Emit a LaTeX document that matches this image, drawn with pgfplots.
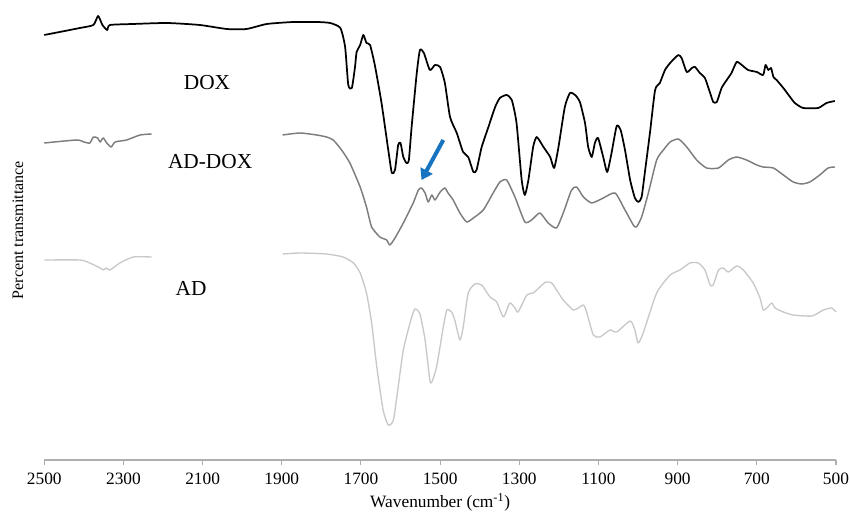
\documentclass[border=0pt]{standalone}
\usepackage{fontspec}
\setmainfont{Liberation Serif}
\usepackage{pgfplots}
\pgfplotsset{compat=1.18}
\usetikzlibrary{calc,arrows.meta}
\definecolor{adgray}{RGB}{125,125,125}
\definecolor{adlight}{RGB}{200,200,200}
\definecolor{arrowblue}{RGB}{22,116,192}
\definecolor{axgray}{RGB}{175,175,175}

\begin{document}
\begin{tikzpicture}
\begin{axis}[
  width=593.8pt, height=337.5pt, scale only axis,
  x dir=reverse, xmin=500, xmax=2500, ymin=0, ymax=450,
  axis x line=bottom, axis y line=none,
  axis line style={-, color=axgray, line width=0.8pt},
  xtick={500,700,...,2500},
  tick align=outside, major tick length=4pt,
  tick style={color=axgray, line width=0.8pt},
  /pgf/number format/assume math mode=true,
  /pgf/number format/1000 sep={},
  x tick label style={font=\fontsize{13}{13}\selectfont, yshift=-2pt},
  xlabel={Wavenumber (cm\textsuperscript{-1})},
  xlabel style={font=\fontsize{13}{13}\selectfont},
  clip=false,
  every axis plot/.append style={line join=round, mark=none, smooth, tension=0.35},
]
% DOX
\addplot[black, line width=1.3pt] coordinates {
(2500,425) (2410,432) (2376,435) (2364,444) (2353,435) (2341,430) (2334,435)
(2276,436) (2190,437) (2107,435) (2039,431) (1989,431) (1938,436) (1871,438)
(1811,438) (1778,437) (1752,432) (1740,413) (1732,375) (1723,372) (1715,393)
(1711,408) (1702,415) (1694,425) (1686,417) (1677,415) (1665,395) (1648,357)
(1631,310) (1622,287) (1614,290) (1606,315) (1600,317) (1593,303) (1585,297)
(1579,300) (1572,333) (1559,387) (1551,410) (1541,407) (1526,390) (1513,395)
(1500,393) (1488,377) (1475,343) (1458,327) (1442,308) (1429,303) (1416,288)
(1408,290) (1395,313) (1378,333) (1361,353) (1349,362) (1332,365) (1319,360)
(1307,337) (1294,280) (1286,265) (1277,280) (1265,313) (1256,323) (1239,313)
(1222,303) (1212,292) (1201,313) (1185,353) (1172,367) (1159,365) (1147,358)
(1134,337) (1126,313) (1117,303) (1109,317) (1101,322) (1088,303) (1078,288)
(1067,307) (1054,334) (1044,330) (1033,310) (1020,280) (1008,262) (999,258)
(991,263) (983,287) (970,327) (957,370) (945,377) (932,390) (919,397)
(907,402) (898,405) (890,402) (877,388) (864,392) (856,393) (844,387)
(831,382) (818,367) (810,358) (801,358) (789,372) (776,380) (764,387)
(751,398) (738,395) (722,390) (700,388) (684,385) (678,395) (671,390)
(664,392) (658,383) (650,380) (633,372) (616,363) (604,357) (583,352)
(545,352) (524,357) (503,359)
};
% AD-DOX
\addplot[adgray, line width=1.1pt] coordinates {
(2500,317) (2418,320) (2400,318) (2385,317) (2376,323) (2365,322) (2359,318)
(2351,322) (2342,317) (2331,313) (2321,318) (2292,320) (2258,325) (2229,326)
};
\addplot[adgray, line width=1.1pt] coordinates {
(1898,325) (1854,327) (1812,325) (1787,323) (1770,320) (1749,310) (1728,297)
(1702,273) (1686,253) (1673,233) (1652,223) (1635,220) (1627,215) (1614,222)
(1593,237) (1568,257) (1555,270) (1547,272) (1538,267) (1530,258) (1521,265)
(1513,260) (1500,268) (1488,272) (1480,267) (1467,260) (1450,247) (1433,238)
(1416,242) (1391,250) (1366,267) (1349,278) (1332,280) (1311,263) (1286,238)
(1269,240) (1248,247) (1227,237) (1206,232) (1189,247) (1168,270) (1155,273)
(1138,263) (1117,257) (1088,262) (1058,267) (1033,250) (1012,235) (1004,233)
(991,243) (974,267) (953,300) (936,310) (919,318) (898,321) (877,313)
(852,300) (827,292) (797,292) (772,300) (751,303) (726,300) (700,295)
(684,293) (658,292) (633,285) (608,278) (587,276) (566,278) (541,285)
(520,292) (503,293)
};
% AD
\addplot[adlight, line width=1pt] coordinates {
(2500,200) (2410,200) (2385,197) (2359,192) (2351,190) (2343,192) (2334,190)
(2309,197) (2275,203) (2229,203)
};
\addplot[adlight, line width=1pt] coordinates {
(1898,206) (1854,207) (1787,206) (1745,203) (1719,197) (1702,187) (1686,167)
(1673,137) (1660,93) (1644,50) (1631,35) (1618,40) (1606,73) (1593,110)
(1576,137) (1564,151) (1551,146) (1538,120) (1526,80) (1521,78) (1509,93)
(1492,133) (1483,150) (1471,148) (1463,140) (1450,120) (1442,132) (1429,167)
(1412,176) (1395,175) (1374,163) (1357,158) (1340,143) (1324,157) (1311,152)
(1303,148) (1281,165) (1265,167) (1248,173) (1233,178) (1218,177) (1206,170)
(1189,160) (1164,150) (1151,152) (1138,155) (1130,148) (1113,125) (1096,123)
(1071,130) (1054,128) (1020,139) (1008,130) (1000,117) (987,127) (953,167)
(919,185) (894,190) (869,197) (848,197) (831,190) (818,175) (810,175)
(797,190) (785,192) (772,188) (751,194) (734,190) (709,177) (692,162)
(684,150) (675,152) (662,157) (654,152) (633,148) (608,145) (561,144)
(532,150) (511,152) (500,148)
};
\node[font=\fontsize{16}{16}\selectfont] at (axis cs:2089,377) {DOX};
\node[font=\fontsize{16}{16}\selectfont] at (axis cs:2081,298) {AD-DOX};
\node[font=\fontsize{16}{16}\selectfont] at (axis cs:2129,172) {AD};
\draw[arrowblue, line width=3pt, -{Triangle[width=10pt,length=8pt]}] (axis cs:1492,320) -- (axis cs:1547,280);
\end{axis}
\node[rotate=90, font=\fontsize{12}{12}\selectfont] at ($(current axis.west)+(-19.7pt,3.75pt)$) {Percent transmittance};
\pgfresetboundingbox
\path ($(current axis.south west)+(-33.2pt,-42.75pt)$) rectangle ($(current axis.north east)+(10.5pt,7.5pt)$);
\end{tikzpicture}
\end{document}
